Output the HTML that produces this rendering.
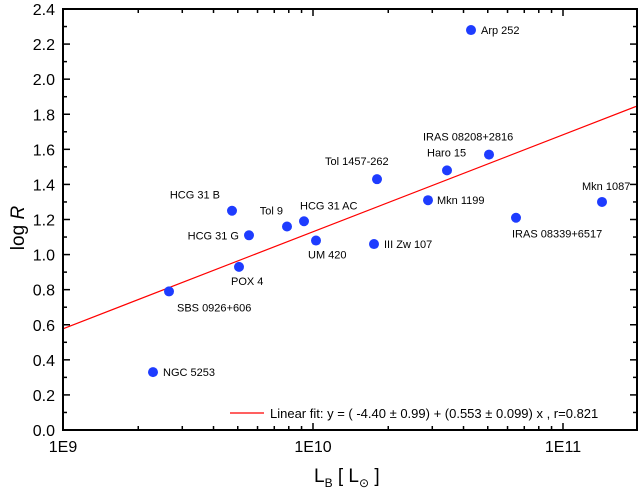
<!DOCTYPE html>
<html><head><meta charset="utf-8"><style>
body{margin:0;background:#fff;}
svg{font-family:"Liberation Sans",Arial,sans-serif;}
</style></head><body>
<svg id="chart" width="638" height="496" xmlns="http://www.w3.org/2000/svg"></svg>
<script>
const names=["NGC 5253","SBS 0926+606","POX 4","HCG 31 G","HCG 31 B","Tol 9","UM 420","HCG 31 AC","Tol 1457-262","III Zw 107","Mkn 1199","Haro 15","Arp 252","IRAS 08208+2816","IRAS 08339+6517","Mkn 1087"];
const logL=[9.36,9.424,9.704,9.744,9.676,9.896,10.012,9.964,10.256,10.244,10.46,10.536,10.632,10.704,10.812,11.156];
const logR=[0.33,0.79,0.93,1.11,1.25,1.16,1.08,1.19,1.43,1.06,1.31,1.48,2.28,1.57,1.21,1.30];
const labelDx=[10,8,-8,-10,-12,-4,-8,-4,-52,10,9,-20,10,-66,-4,-20];
const labelDy=[4,20,18,4,-12,-12,18,-12,-14,4,4,-14,4,-14,20,-12];
const labelAnchor=["start","start","start","end","end","end","start","start","start","start","start","start","start","start","start","start"];
const fitA=-4.40, fitB=0.553;
const yTicks=[0,0.2,0.4,0.6,0.8,1.0,1.2,1.4,1.6,1.8,2.0,2.2,2.4];
const xTickLabels=["1E9","1E10","1E11"];
const xTickLogs=[9,10,11];
const X0=63,X1=637,Y0=430,Y1=9;
const xs=v=>X0+(v-9)*250;
const ys=v=>Y0-v*(Y0-Y1)/2.4;
const svg=document.getElementById('chart');
const NS="http://www.w3.org/2000/svg";
function mk(tag,attrs,parent){const e=document.createElementNS(NS,tag);for(const k in attrs)e.setAttribute(k,attrs[k]);(parent||svg).appendChild(e);return e;}
let fl=mk('line',{x1:X0,y1:ys(fitA+fitB*9),x2:X1,y2:ys(fitA+fitB*(9+(X1-X0)/250)),stroke:'#ff0000','stroke-width':1.2});


let fr=mk('rect',{x:X0,y:Y1,width:X1-X0,height:Y0-Y1,fill:'none',stroke:'#000','stroke-width':2});


for(let i=0;i<yTicks.length;i++){
  const y=ys(yTicks[i]);
  mk('line',{x1:X0,y1:y,x2:X0+7,y2:y,stroke:'#000','stroke-width':1.5});
  mk('line',{x1:X1,y1:y,x2:X1-7,y2:y,stroke:'#000','stroke-width':1.5});
  if(i<yTicks.length-1){const ym=ys(yTicks[i]+0.1);
    mk('line',{x1:X0,y1:ym,x2:X0+4,y2:ym,stroke:'#000','stroke-width':1.5});
    mk('line',{x1:X1,y1:ym,x2:X1-4,y2:ym,stroke:'#000','stroke-width':1.5});}
  const t=mk('text',{x:X0-8,y:y+6,'text-anchor':'end','font-size':16});
  t.textContent=yTicks[i].toFixed(1);
  
  
}
for(let d=9;d<=11;d++){for(let m=1;m<=9;m++){const lv=d+Math.log10(m);if(lv>9+(X1-X0)/250)continue;const x=xs(lv);const len=m===1?7:4;
  mk('line',{x1:x,y1:Y0,x2:x,y2:Y0-len,stroke:'#000','stroke-width':1.5});
  mk('line',{x1:x,y1:Y1,x2:x,y2:Y1+len,stroke:'#000','stroke-width':1.5});}}
for(let i=0;i<xTickLabels.length;i++){const t=mk('text',{x:xs(xTickLogs[i]),y:Y0+22,'text-anchor':'middle','font-size':16});
  t.textContent=xTickLabels[i];
  
  }
for(let i=0;i<names.length;i++){const cx=xs(logL[i]),cy=ys(logR[i]);
  const c=mk('circle',{cx:cx,cy:cy,r:5,fill:'#1e3cff'});
  
  
  const t=mk('text',{x:cx+labelDx[i],y:cy+labelDy[i],'text-anchor':labelAnchor[i],'font-size':11});
  t.textContent=names[i];
  
  }
</script>
<svg style="position:absolute;left:0;top:0" width="638" height="496" xmlns="http://www.w3.org/2000/svg" font-family="Liberation Sans, Arial, sans-serif">
<g>
<line x1="230" y1="413" x2="264" y2="413" stroke="#ff0000" stroke-width="1.2"/>
<text x="270" y="418" font-size="13">Linear fit: y = ( -4.40 ± 0.99) + (0.553 ± 0.099) x , r=0.821</text>
</g>
<text transform="translate(24,228) rotate(-90)" text-anchor="middle" font-size="19">log <tspan font-style="italic">R</tspan></text>
<text x="314" y="482" font-size="19">L<tspan font-size="12" dy="5">B</tspan><tspan dy="-5"> [ L</tspan><tspan font-size="12" dy="5">⊙</tspan><tspan dy="-5"> ]</tspan></text>
</svg>
</body></html>
